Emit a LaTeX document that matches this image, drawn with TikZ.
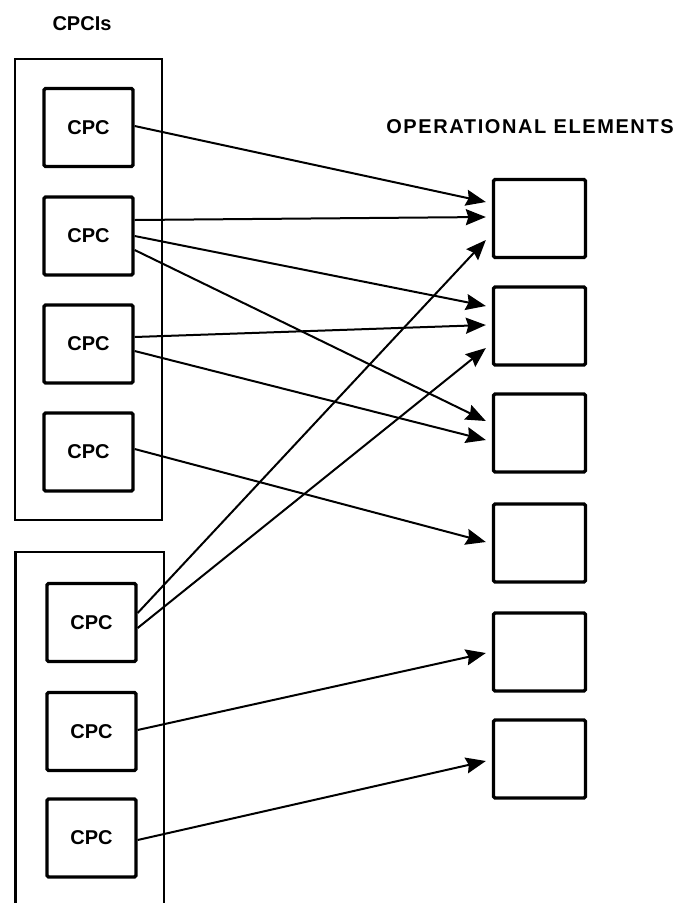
\documentclass[tikz,border=0pt]{standalone}
\usepackage{fontspec}
\setmainfont{Liberation Sans}
\newfontfamily\spacedfont[LetterSpace=8]{Liberation Sans}
\usetikzlibrary{arrows.meta}
\tikzset{
  cpcbox/.style={draw, line width=3.3pt, rounded corners=1.5pt, minimum width=89pt, minimum height=78pt, inner sep=0pt, font=\bfseries\fontsize{20}{24}\selectfont},
  oebox/.style={draw, line width=3.3pt, rounded corners=1.5pt, minimum width=92pt, minimum height=78pt, inner sep=0pt},
  groupbox/.style={line width=2.3pt},
  link/.style={line width=2pt, -{Stealth[length=20pt,width=16pt,inset=2.5pt]}},
  title/.style={font=\bfseries\fontsize{20}{24}\selectfont, anchor=base, inner sep=0pt}
}
\begin{document}
\begin{tikzpicture}[x=1pt,y=-1pt]
\useasboundingbox (0,0) rectangle (682,903);
% titles
\node[title] (t1) at (82,30) {CPCIs};
\node[title, font=\spacedfont\bfseries\fontsize{20}{24}\selectfont] (t2) at (530,133) {OPERATIONAL ELEMENTS};
% group boxes
\draw[groupbox] (15,59) rectangle (162,520);
\draw[groupbox] (15.5,910) -- (15.5,552) -- (164,552) -- (164,910);
% CPC boxes
\node[cpcbox] (c1) at (88.5,127.5) {CPC};
\node[cpcbox] (c2) at (88.5,236) {CPC};
\node[cpcbox] (c3) at (88.5,344) {CPC};
\node[cpcbox] (c4) at (88.5,452) {CPC};
\node[cpcbox] (c5) at (91.5,622.5) {CPC};
\node[cpcbox] (c6) at (91.5,731.5) {CPC};
\node[cpcbox] (c7) at (91.5,838) {CPC};
% operational elements
\node[oebox] (o1) at (539.5,218.5) {};
\node[oebox] (o2) at (539.5,326) {};
\node[oebox] (o3) at (539.5,433) {};
\node[oebox] (o4) at (539.5,543) {};
\node[oebox] (o5) at (539.5,652) {};
\node[oebox] (o6) at (539.5,759) {};
% connectors
\draw[link] ([yshift=1.5pt]c1.east) -- ([xshift=-6pt,yshift=16.5pt]o1.west);
\draw[link] ([yshift=16pt]c2.east) -- ([xshift=-6pt,yshift=1.5pt]o1.west);
\draw[link] (c2.east) -- ([xshift=-6pt,yshift=20pt]o2.west);
\draw[link] ([yshift=-14pt]c2.east) -- ([xshift=-6pt,yshift=12pt]o3.west);
\draw[link] ([yshift=7pt]c3.east) -- ([xshift=-6pt,yshift=1pt]o2.west);
\draw[link] ([yshift=-7pt]c3.east) -- ([xshift=-6pt,yshift=-7pt]o3.west);
\draw[link] ([yshift=3pt]c4.east) -- ([xshift=-6pt,yshift=1pt]o4.west);
\draw[link] ([yshift=9.5pt]c5.east) -- ([xshift=-6pt,yshift=-21.5pt]o1.west);
\draw[link] ([yshift=-5.5pt]c5.east) -- ([xshift=-6pt,yshift=-22pt]o2.west);
\draw[link] ([yshift=1.5pt]c6.east) -- ([xshift=-6pt,yshift=-1pt]o5.west);
\draw[link] ([yshift=-2pt]c7.east) -- ([xshift=-6pt,yshift=-2pt]o6.west);
\end{tikzpicture}
\end{document}
